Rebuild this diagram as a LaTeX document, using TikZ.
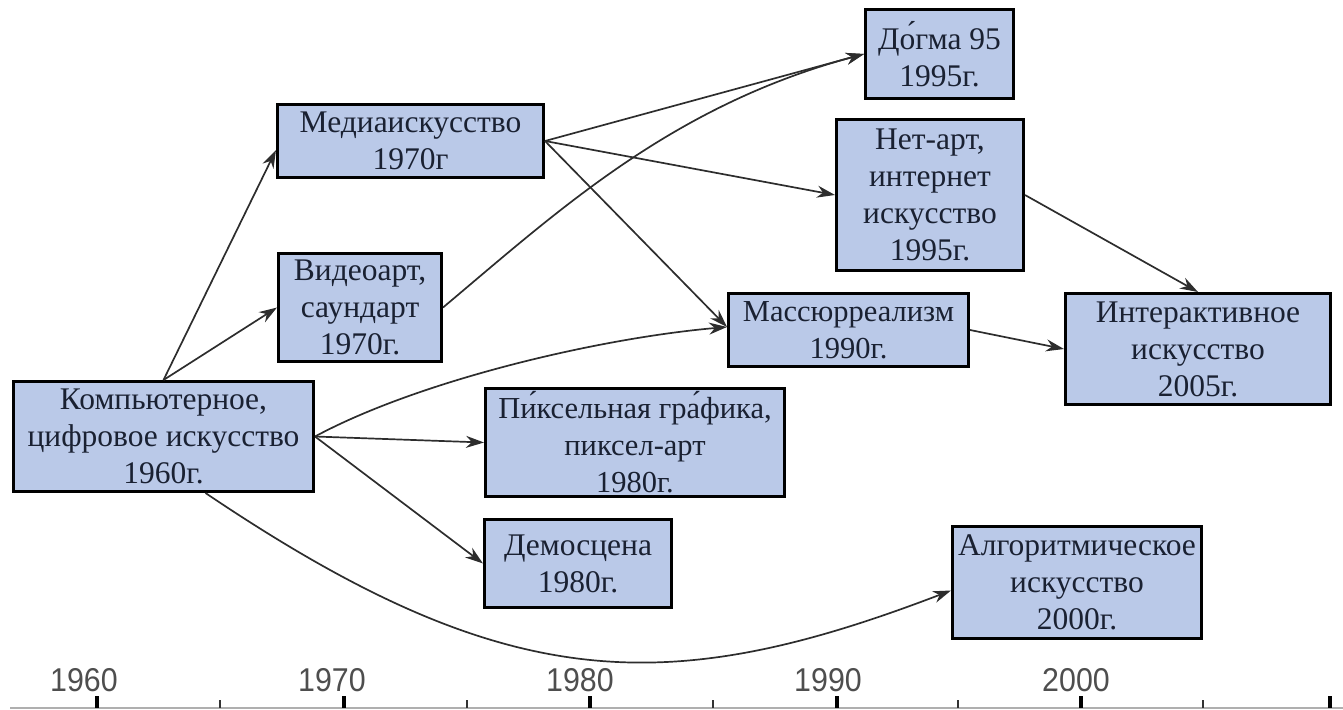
\documentclass[tikz,border=0pt]{standalone}
\usepackage{fontspec}
\setmainfont{Liberation Serif}
\newfontfamily\axisfont[FakeStretch=0.92]{Liberation Sans}
\usetikzlibrary{arrows.meta}

\definecolor{boxfill}{RGB}{186,201,232}
\definecolor{boxtext}{RGB}{26,33,50}
\definecolor{linkcol}{RGB}{45,45,45}
\definecolor{axisgray}{RGB}{175,175,175}
\definecolor{yeargray}{RGB}{78,78,78}

\begin{document}
\begin{tikzpicture}[x=1pt,y=-1pt,
  era/.style={draw=black, line width=3pt, fill=boxfill, text=boxtext,
    align=center, inner sep=0pt, font=\fontsize{31.5}{37}\selectfont},
  link/.style={draw=linkcol, line width=1.7pt, -{Stealth[length=18pt,width=12pt]}},
  yearlabel/.style={text=yeargray, inner sep=0pt, font=\axisfont\fontsize{33}{33}\selectfont},
  axisline/.style={draw=axisgray, line width=1.5pt},
  majortick/.style={fill=black},
  minortick/.style={fill=black!80}]
\useasboundingbox (0,0) rectangle (1343,709);

% ---- periods ----
\node[era, minimum width=300pt, minimum height=110pt] (comp) at (163.5,436.5)
  {Компьютерное,\\цифровое искусство\\1960г.};
\node[era, minimum width=266pt, minimum height=73pt] (media) at (410.5,141)
  {Медиаискусство\\1970г};
\node[era, minimum width=163pt, minimum height=108pt] (video) at (360,307.5)
  {Видеоарт,\\саундарт\\1970г.};
\node[era, minimum width=299pt, minimum height=108pt,
      font=\fontsize{30.5}{37}\selectfont] (pixel) at (635,442.5)
  {Пи́ксельная гра́фика,\\пиксел-арт\\1980г.};
\node[era, minimum width=187pt, minimum height=88pt] (demo) at (578,563.5)
  {Демосцена\\1980г.};
\node[era, minimum width=148pt, minimum height=89pt] (dogma) at (939.5,54)
  {До́гма 95\\1995г.};
\node[era, minimum width=187pt, minimum height=151pt] (net) at (930,195)
  {Нет-арт,\\интернет\\искусство\\1995г.};
\node[era, minimum width=240pt, minimum height=73pt,
      font=\fontsize{30.5}{37}\selectfont] (mass) at (848.5,330)
  {Массюрреализм\\1990г.};
\node[era, minimum width=265pt, minimum height=111pt] (inter) at (1198,349)
  {Интерактивное\\искусство\\2005г.};
\node[era, minimum width=249pt, minimum height=112pt] (algo) at (1077,582.5)
  {Алгоритмическое\\искусство\\2000г.};

% ---- influences ----
\draw[link] (comp.north) -- ([yshift=-9pt]media.west);
\draw[link] (comp.north) -- (video.west);
\draw[link] (comp.east) -- (pixel.west);
\draw[link] (comp.east) -- (demo.west);
\draw[link] (comp.east) .. controls (420,380) and (600,338) .. ([yshift=3pt]mass.west);
\draw[link] ([xshift=42pt]comp.south) .. controls (505,695) and (665,700) .. ([yshift=-8pt]algo.west);
\draw[link] (video.east) .. controls (558,211) and (671,106) .. (dogma.west);
\draw[link] (media.east) -- (dogma.west);
\draw[link] (media.east) -- (net.west);
\draw[link] (media.east) -- ([yshift=3pt]mass.west);
\draw[link] (net.east) -- (inter.north);
\draw[link] (mass.east) -- (inter.west);

% ---- time axis ----
\draw[axisline] (10,708) -- (1343,708);
\foreach \t in {97,343.5,590,836.5,1081,1329.5}
  \fill[majortick] (\t-2,696) rectangle (\t+2,708);
\foreach \t in {220,467,713,958,1203}
  \fill[minortick] (\t-1,700) rectangle (\t+1,708);
\node[yearlabel] (y1960) at (84,680) {1960};
\node[yearlabel] (y1970) at (332,680) {1970};
\node[yearlabel] (y1980) at (580,680) {1980};
\node[yearlabel] (y1990) at (828,680) {1990};
\node[yearlabel] (y2000) at (1076,680) {2000};
\end{tikzpicture}
\end{document}
